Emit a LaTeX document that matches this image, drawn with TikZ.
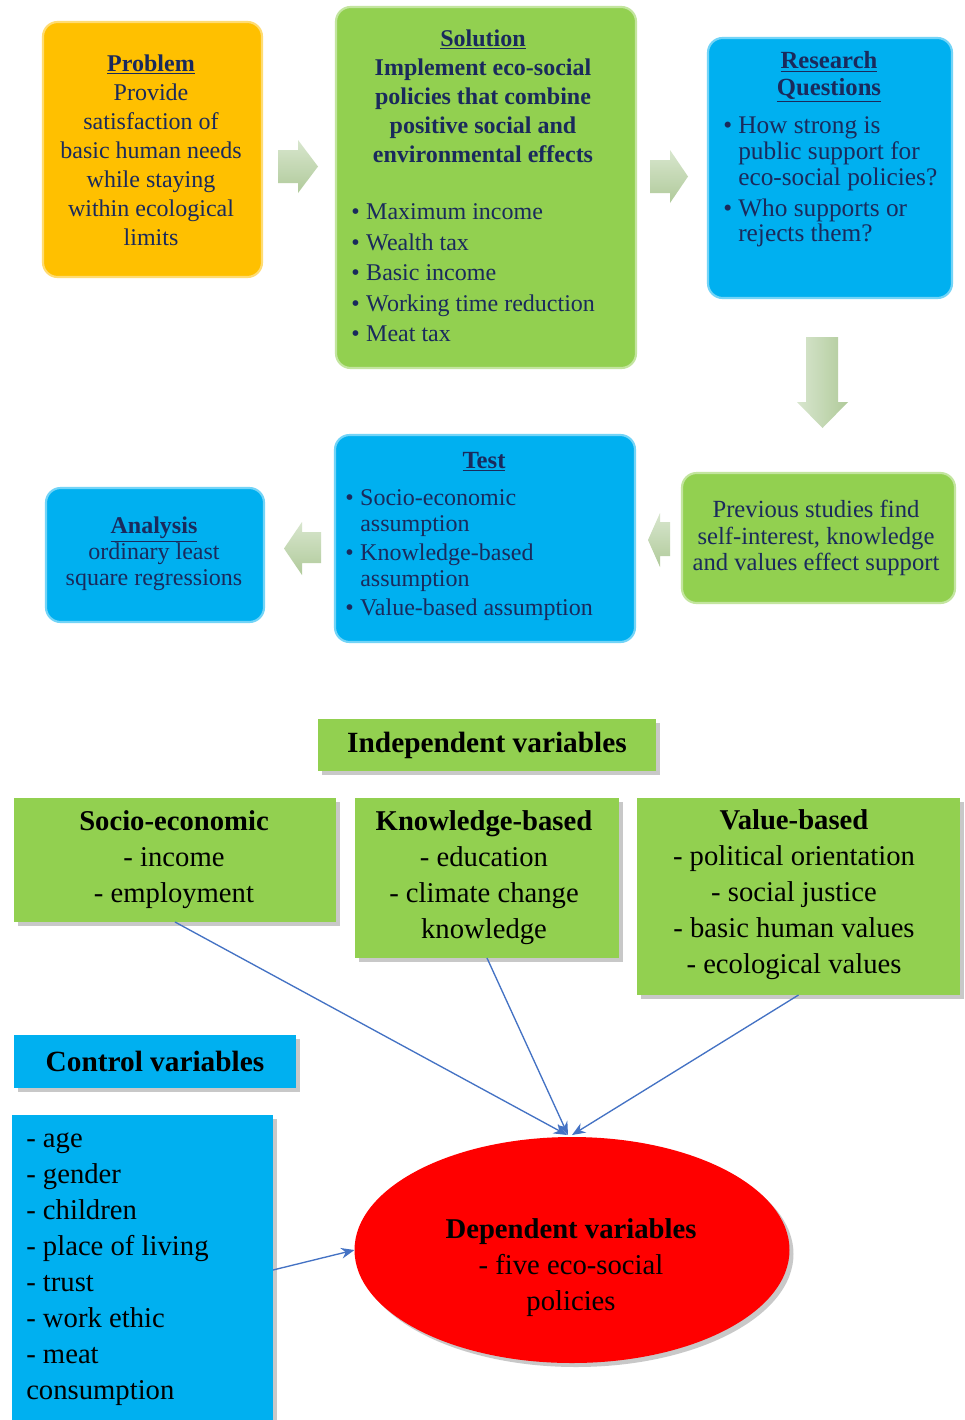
\documentclass[tikz,border=0pt]{standalone}
\usepackage{fontspec}
\setmainfont{Liberation Serif}
\usetikzlibrary{arrows.meta,shapes.geometric,shadows,calc}
\definecolor{navy}{HTML}{1A2A5C}
\definecolor{orangeF}{HTML}{FFC000}
\definecolor{greenF}{HTML}{92D050}
\definecolor{blueF}{HTML}{00B0F0}
\definecolor{redF}{HTML}{FF0000}
\definecolor{arrowL}{HTML}{D8E6CE}
\definecolor{arrowD}{HTML}{B0CA9A}
\definecolor{linkC}{HTML}{4472C4}
\newcommand\bitem{\makebox[11.25pt][l]{\textbullet}}
\newcommand\bind{\hspace*{11.25pt}}
\tikzset{
  rbox/.style={rounded corners=11pt, inner sep=0pt, outer sep=0pt, line width=1.6pt},
  obox/.style={rbox, fill=orangeF, draw=orangeF!55!white},
  gbox/.style={rbox, fill=greenF, draw=greenF!55!white},
  bbox/.style={rbox, fill=blueF, draw=blueF!55!white},
  sqbox/.style={inner sep=0pt, outer sep=0pt, drop shadow={shadow xshift=3pt, shadow yshift=-3pt, opacity=0.3, fill=black!70}},
  gsq/.style={sqbox, fill=greenF},
  bsq/.style={sqbox, fill=blueF},
  toptxt/.style={text=navy, inner sep=0pt, font=\fontsize{18pt}{21.75pt}\selectfont},
  bottxt/.style={text=black, inner sep=0pt, font=\fontsize{21.5pt}{27pt}\selectfont},
  blockarrow/.style={top color=arrowL, bottom color=arrowD, draw=none},
  link/.style={draw=linkC, line width=1pt, -{Stealth[length=10pt,width=8pt]}}
}
\begin{document}
\begin{tikzpicture}[x=0.75pt,y=-0.75pt]
\path[use as bounding box, fill=white] (0,0) rectangle (964,1420);

% block arrows
\path[blockarrow] (278,150) -- (298,150) -- (298,140) -- (318,166.5) -- (298,193) -- (298,183) -- (278,183) -- cycle;
\path[blockarrow] (650,160) -- (670,160) -- (670,150) -- (688,176.5) -- (670,203) -- (670,193) -- (650,193) -- cycle;
\path[blockarrow, left color=arrowL, right color=arrowD] (806,337) -- (838,337) -- (838,402) -- (848,402) -- (822.5,428) -- (797,402) -- (806,402) -- cycle;
\path[blockarrow] (670,522) -- (660,522) -- (660,513) -- (648,540) -- (660,567) -- (660,556) -- (670,556) -- cycle;
\path[blockarrow] (321,532) -- (302,532) -- (302,522) -- (284,548.5) -- (302,575) -- (302,563) -- (321,563) -- cycle;

% Problem
\node[obox, minimum width=164.25pt, minimum height=191.25pt] (prob) at (152.5,149.5) {};
\node[toptxt, align=center] (probT) at (151,150) {\textbf{\underline{Problem}}\\Provide\\satisfaction of\\basic human needs\\while staying\\within ecological\\limits};

% Solution
\node[gbox, minimum width=225pt, minimum height=270.75pt] (sol) at (486,187.5) {};
\node[toptxt, font=\fontsize{18pt}{21.75pt}\selectfont\bfseries, align=center] (solT) at (483,96) {\underline{Solution}\\Implement eco-social\\policies that combine\\positive social and\\environmental effects};
\node[toptxt, font=\fontsize{18pt}{22.9pt}\selectfont, align=left, anchor=west] (solL) at (351,273) {\bitem Maximum income\\\bitem Wealth tax\\\bitem Basic income\\\bitem Working time reduction\\\bitem Meat tax};

% Research questions
\node[bbox, minimum width=183pt, minimum height=195pt] (rq) at (830,168) {};
\node[toptxt, font=\fontsize{18.5pt}{20pt}\selectfont\bfseries, align=center] (rqT) at (829,77) {\underline{Research}\\\underline{Questions}};
\node[toptxt, font=\fontsize{19pt}{19.3pt}\selectfont, align=left, anchor=west] (rqL) at (723,182) {\bitem How strong is\\\bind public support for\\\bind eco-social policies?\\[4pt]\bitem Who supports or\\\bind rejects them?};

% Previous studies
\node[gbox, minimum width=204.75pt, minimum height=97.5pt] (prev) at (818.5,538) {};
\node[toptxt, font=\fontsize{18.5pt}{20pt}\selectfont, align=center] (prevT) at (816,538) {Previous studies find\\self-interest, knowledge\\and values effect support};

% Test
\node[bbox, minimum width=225pt, minimum height=155.25pt] (test) at (485,538.5) {};
\node[toptxt, font=\fontsize{18.5pt}{20pt}\selectfont\bfseries] (testT) at (484,462) {\underline{Test}};
\node[toptxt, font=\fontsize{18pt}{19.5pt}\selectfont, align=left, anchor=west] (testL) at (345,555) {\bitem Socio-economic\\\bind assumption\\[2pt]\bitem Knowledge-based\\\bind assumption\\[2pt]\bitem Value-based assumption};

% Analysis
\node[bbox, minimum width=163.5pt, minimum height=100.5pt] (ana) at (155,555) {};
\node[toptxt, font=\fontsize{18pt}{19.5pt}\selectfont, align=center] (anaT) at (154,554) {\textbf{\underline{Analysis}}\\ordinary least\\square regressions};

% Independent variables
\node[gsq, minimum width=253.5pt, minimum height=39pt, font=\fontsize{22pt}{27pt}\selectfont\bfseries] (indep) at (487,745) {Independent variables};
\node[gsq, minimum width=241.5pt, minimum height=93pt] (socio) at (175,860) {};
\node[bottxt, align=center] (socioT) at (174,860) {\textbf{Socio-economic}\\- income\\- employment};
\node[gsq, minimum width=198pt, minimum height=120pt] (know) at (487,878) {};
\node[bottxt, align=center] (knowT) at (484,878) {\textbf{Knowledge-based}\\- education\\- climate change\\knowledge};
\node[gsq, minimum width=242.25pt, minimum height=147.75pt] (val) at (798.5,896.5) {};
\node[bottxt, align=center] (valT) at (794,895) {\textbf{Value-based}\\- political orientation\\- social justice\\- basic human values\\- ecological values};

% Control variables
\node[bsq, minimum width=211.5pt, minimum height=39.75pt, font=\fontsize{22pt}{27pt}\selectfont\bfseries] (ctrlT) at (155,1061.5) {Control variables};
\node[bsq, minimum width=195.75pt, minimum height=232.5pt] (ctl) at (142.5,1270) {};
\node[bottxt, align=left, anchor=west] (ctlT) at (26,1269) {- age\\- gender\\- children\\- place of living\\- trust\\- work ethic\\- meat\\consumption};

% Dependent variables
\node[ellipse, fill=redF, minimum width=326.25pt, minimum height=169.5pt, inner sep=0pt, outer sep=0pt, drop shadow={shadow xshift=3pt, shadow yshift=-3pt, opacity=0.3, fill=black!70}] (dep) at (572,1250) {};
\node[bottxt, align=center] (depT) at (571,1268) {\textbf{Dependent variables}\\- five eco-social\\policies};

% links
\draw[link] (socio.south) -- ($(dep.north)+(-5,-2)$);
\draw[link] (know.south) -- ($(dep.north)+(-4,-2)$);
\draw[link] (val.south) -- ($(dep.north)+(0,-2)$);
\draw[link] (ctl.east) -- (dep.west);
\end{tikzpicture}
\end{document}
